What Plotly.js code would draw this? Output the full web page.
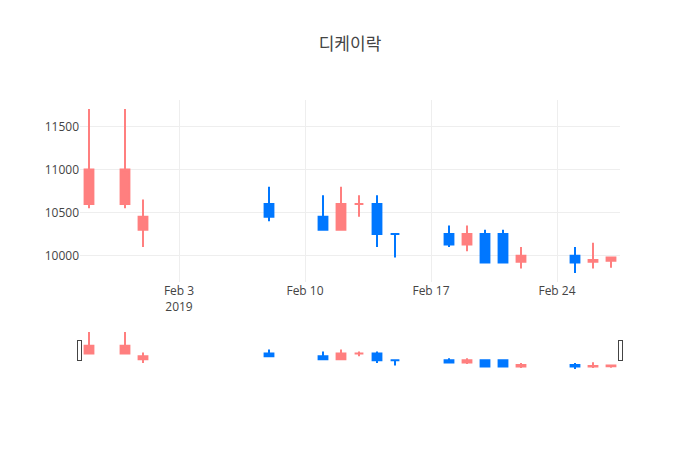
<!DOCTYPE html>
<html>
<head>
<meta charset="utf-8">
<script src="https://cdn.plot.ly/plotly-3.0.1.min.js"></script>
<style>
  body { margin: 0; }
  #chart { width: 700px; height: 450px; }
</style>
</head>
<body>
<div id="chart"></div>
<script>
// 디케이락 daily prices, Jan-Feb 2019
const dates = [
  "2019-01-29", "2019-01-31", "2019-02-01", "2019-02-08", "2019-02-11",
  "2019-02-12", "2019-02-13", "2019-02-14", "2019-02-15", "2019-02-18",
  "2019-02-19", "2019-02-20", "2019-02-21", "2019-02-22", "2019-02-25",
  "2019-02-26", "2019-02-27"
];
const openPrices = [10600, 10600, 10300, 10600, 10450, 10300, 10600, 10600, 10250, 10250, 10130, 10250, 10250, 9930, 10000, 9930, 9940];
const highPrices = [11700, 11700, 10650, 10800, 10700, 10800, 10700, 10700, 10250, 10350, 10350, 10300, 10300, 10100, 10100, 10150, 9990];
const lowPrices = [10550, 10550, 10100, 10400, 10300, 10300, 10450, 10100, 9980, 10100, 10050, 9920, 9920, 9850, 9800, 9850, 9860];
const closePrices = [11000, 11000, 10450, 10450, 10300, 10600, 10600, 10250, 10250, 10130, 10250, 9920, 9920, 10000, 9920, 9950, 9980];

const upColor = "#FF7F7F";
const downColor = "#0077FF";

const trace = {
  type: "candlestick",
  x: dates,
  open: openPrices,
  high: highPrices,
  low: lowPrices,
  close: closePrices,
  increasing: { line: { color: upColor }, fillcolor: upColor },
  decreasing: { line: { color: downColor }, fillcolor: downColor },
  showlegend: false
};

const layout = {
  width: 700,
  height: 450,
  title: { text: "디케이락" },
  font: { family: "'Open Sans', 'Noto Sans CJK KR', sans-serif" },
  xaxis: { rangeslider: { visible: true } },
  yaxis: { tickformat: "d" }
};

Plotly.newPlot("chart", [trace], layout, { displayModeBar: false });
</script>
</body>
</html>
